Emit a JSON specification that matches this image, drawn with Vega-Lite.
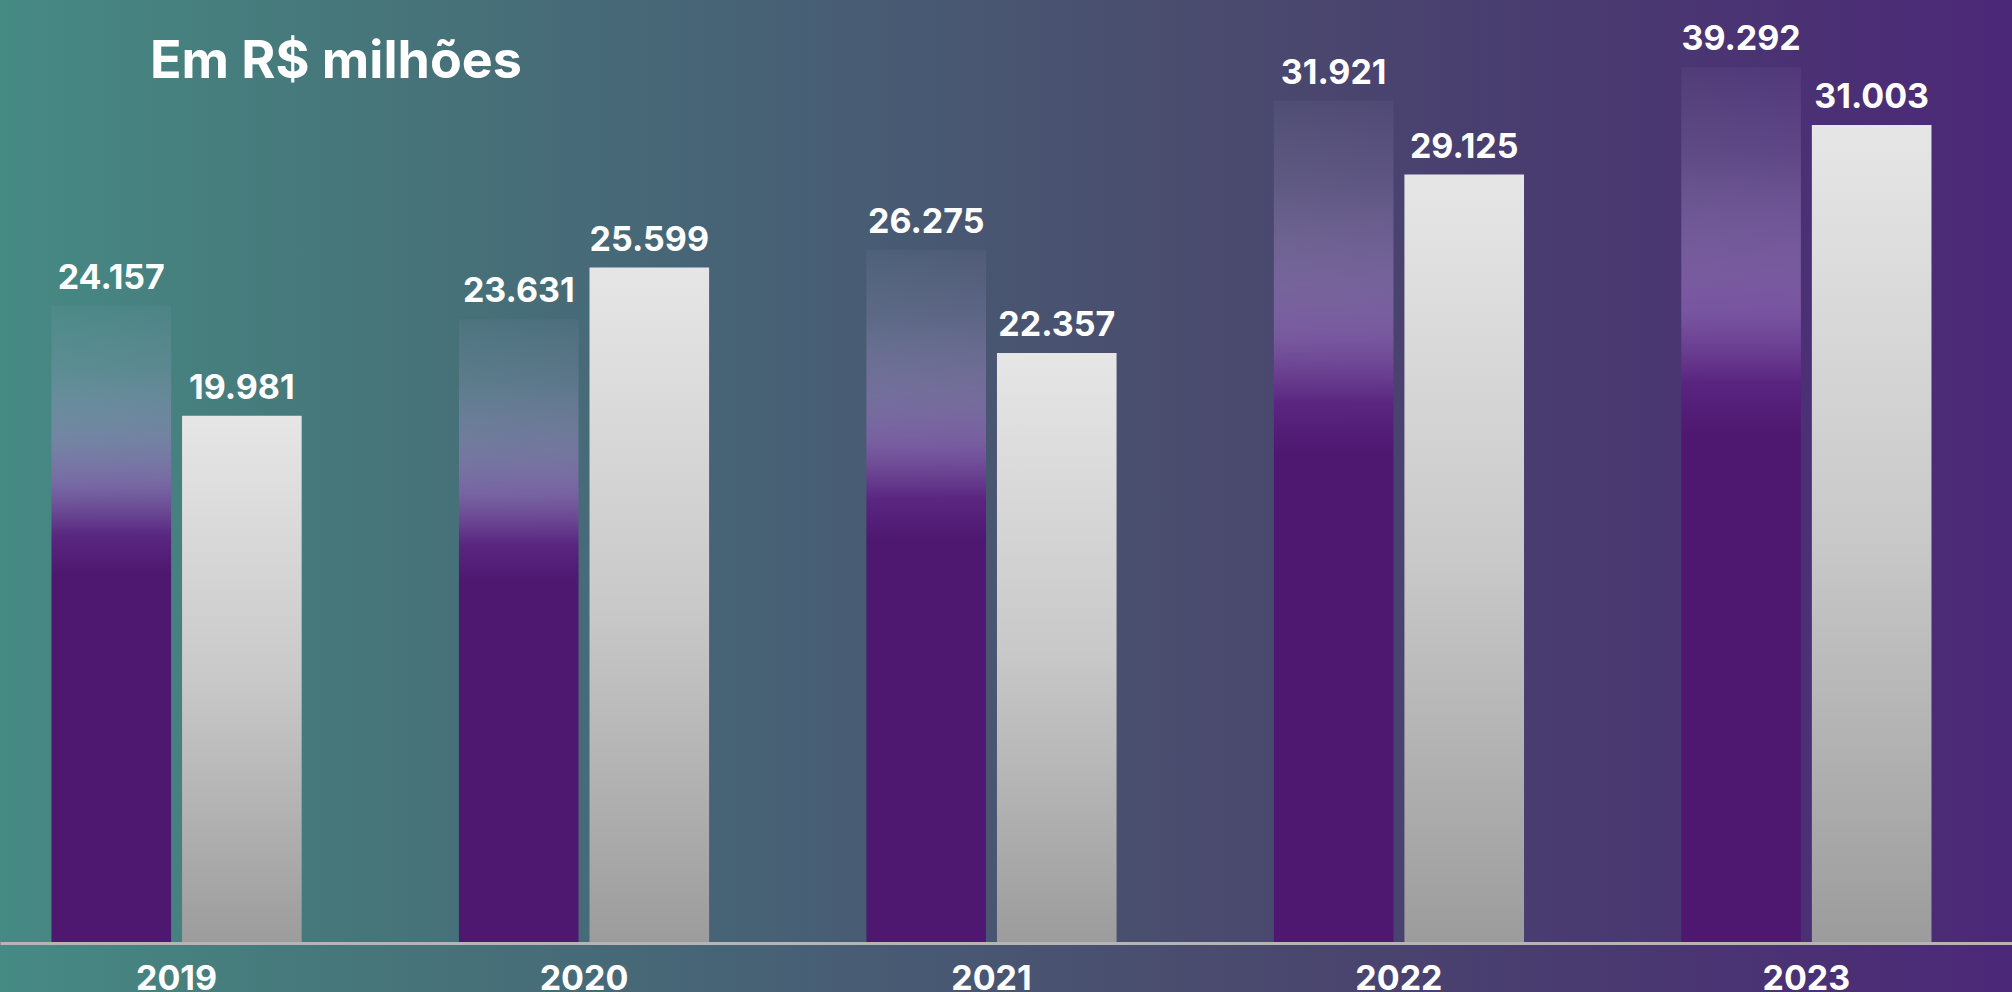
{
  "$schema": "https://vega.github.io/schema/vega-lite/v6.json",
  "width": 2012,
  "height": 992,
  "padding": 0,
  "autosize": {"type": "none"},
  "background": "#4a4f72",
  "config": {
    "view": {"stroke": null},
    "locale": {"number": {"decimal": ",", "thousands": ".", "grouping": [3], "currency": ["R$ ", ""]}}
  },
  "title": {
    "text": "Em R$ milhões",
    "orient": "top",
    "anchor": "start",
    "frame": "group",
    "baseline": "alphabetic",
    "offset": -130,
    "dx": 150,
    "font": "Inter",
    "fontSize": 52,
    "fontWeight": 700,
    "color": "#ffffff"
  },
  "datasets": {
    "valores": [
      {"ano": "2019", "serie": "Série 1", "valor": 24157},
      {"ano": "2019", "serie": "Série 2", "valor": 19981},
      {"ano": "2020", "serie": "Série 1", "valor": 23631},
      {"ano": "2020", "serie": "Série 2", "valor": 25599},
      {"ano": "2021", "serie": "Série 1", "valor": 26275},
      {"ano": "2021", "serie": "Série 2", "valor": 22357},
      {"ano": "2022", "serie": "Série 1", "valor": 31921},
      {"ano": "2022", "serie": "Série 2", "valor": 29125},
      {"ano": "2023", "serie": "Série 1", "valor": 39292},
      {"ano": "2023", "serie": "Série 2", "valor": 31003}
    ]
  },
  "layer": [
    {
      "data": {"values": [{"fundo": 1}]},
      "mark": {
        "type": "rect",
        "fill": {
          "gradient": "linear", "x1": 0, "y1": 0, "x2": 1, "y2": 0,
          "stops": [
            {"offset": 0, "color": "#468a84"},
            {"offset": 0.18, "color": "#46767a"},
            {"offset": 0.39, "color": "#476075"},
            {"offset": 0.59, "color": "#4a4c6e"},
            {"offset": 0.79, "color": "#493a70"},
            {"offset": 1, "color": "#4c2878"}
          ]
        }
      },
      "encoding": {}
    },
    {
      "data": {"name": "valores"},
      "transform": [{"filter": "datum.serie === 'Série 1'"}],
      "mark": {
        "type": "bar",
        "fill": {
          "gradient": "linear", "x1": 0, "y1": 0, "x2": 0, "y2": 1,
          "stops": [
            {"offset": 0, "color": "rgba(200,185,230,0.05)"},
            {"offset": 0.1, "color": "rgba(190,170,220,0.18)"},
            {"offset": 0.2, "color": "rgba(165,135,200,0.45)"},
            {"offset": 0.28, "color": "rgba(135,95,175,0.75)"},
            {"offset": 0.36, "color": "rgba(90,36,128,0.97)"},
            {"offset": 0.42, "color": "#4e1870"},
            {"offset": 1, "color": "#4e1870"}
          ]
        }
      },
      "encoding": {
        "x": {"field": "ano", "type": "nominal", "sort": null,
              "scale": {"paddingInner": 0.386, "paddingOuter": 0.162, "align": 0.39},
              "axis": {"title": null, "labelAngle": 0, "ticks": false, "offset": -49, "zindex": 1,
                       "domainColor": "#b5b5b5", "domainWidth": 3, "labelPadding": 19,
                       "labelFont": "Inter", "labelFontSize": 34, "labelFontWeight": 700, "labelColor": "#ffffff"}},
        "xOffset": {"field": "serie", "type": "nominal",
                    "scale": {"domain": ["Série 1", "Série 2"], "paddingInner": 0.084, "paddingOuter": 0}},
        "y": {"field": "valor", "type": "quantitative",
              "scale": {"domain": [0, 33200], "range": [943, 67], "clamp": true, "nice": false},
              "axis": null}
      }
    },
    {
      "data": {"name": "valores"},
      "transform": [{"filter": "datum.serie === 'Série 2'"}],
      "mark": {
        "type": "bar",
        "fill": {
          "gradient": "linear", "x1": 0, "y1": 0, "x2": 0, "y2": 1,
          "stops": [
            {"offset": 0, "color": "#e6e6e6"},
            {"offset": 0.5, "color": "#c9c9c9"},
            {"offset": 1, "color": "#9c9c9c"}
          ]
        }
      },
      "encoding": {
        "x": {"field": "ano", "type": "nominal", "sort": null},
        "xOffset": {"field": "serie", "type": "nominal"},
        "y": {"field": "valor", "type": "quantitative"}
      }
    },
    {
      "data": {"name": "valores"},
      "mark": {"type": "text", "font": "Inter", "fontSize": 34, "fontWeight": 700,
               "fill": "#ffffff", "baseline": "alphabetic", "dy": -17},
      "encoding": {
        "x": {"field": "ano", "type": "nominal", "sort": null},
        "xOffset": {"field": "serie", "type": "nominal"},
        "y": {"field": "valor", "type": "quantitative"},
        "text": {"field": "valor", "type": "quantitative", "format": ",d"}
      }
    }
  ]
}
